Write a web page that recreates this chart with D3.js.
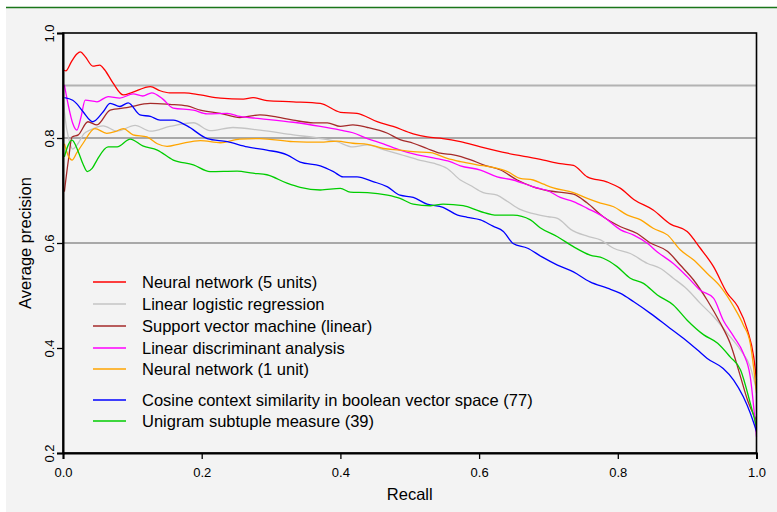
<!DOCTYPE html>
<html>
<head>
<meta charset="utf-8">
<script src="https://cdn.jsdelivr.net/npm/d3@7"></script>
<style>
  html, body { margin: 0; padding: 0; background: #ffffff; }
  svg { display: block; font-family: "Liberation Sans", Arial, sans-serif; }
</style>
</head>
<body>
<svg id="chart" width="777" height="512"></svg>
<script>
// Precision–recall curves, [recall, average precision]
const neuralNet5 = [[0,0.930],[0.004,0.928],[0.012,0.945],[0.020,0.960],[0.025,0.964],[0.032,0.955],[0.043,0.937],[0.053,0.939],[0.060,0.930],[0.072,0.905],[0.087,0.882],[0.100,0.887],[0.126,0.898],[0.140,0.890],[0.154,0.886],[0.175,0.886],[0.198,0.882],[0.227,0.876],[0.260,0.874],[0.274,0.877],[0.294,0.871],[0.332,0.869],[0.371,0.866],[0.400,0.849],[0.424,0.847],[0.453,0.831],[0.476,0.822],[0.505,0.808],[0.525,0.802],[0.548,0.799],[0.573,0.793],[0.602,0.783],[0.641,0.771],[0.670,0.764],[0.693,0.758],[0.717,0.751],[0.736,0.748],[0.756,0.726],[0.785,0.716],[0.804,0.704],[0.823,0.683],[0.851,0.663],[0.876,0.636],[0.900,0.622],[0.919,0.590],[0.938,0.555],[0.958,0.504],[0.973,0.479],[0.987,0.434],[0.996,0.383],[1.0,0.339]];
const logistic = [[0,0.880],[0.003,0.838],[0.008,0.800],[0.014,0.779],[0.022,0.790],[0.030,0.808],[0.039,0.815],[0.058,0.823],[0.078,0.813],[0.104,0.824],[0.126,0.813],[0.154,0.822],[0.188,0.829],[0.212,0.814],[0.245,0.820],[0.284,0.815],[0.332,0.806],[0.367,0.800],[0.395,0.793],[0.418,0.783],[0.439,0.787],[0.462,0.778],[0.486,0.769],[0.511,0.759],[0.534,0.752],[0.554,0.742],[0.573,0.720],[0.587,0.710],[0.606,0.696],[0.626,0.691],[0.641,0.679],[0.659,0.664],[0.678,0.656],[0.700,0.650],[0.713,0.647],[0.732,0.626],[0.756,0.613],[0.775,0.606],[0.794,0.590],[0.818,0.580],[0.843,0.561],[0.861,0.552],[0.880,0.533],[0.900,0.512],[0.919,0.485],[0.938,0.460],[0.958,0.428],[0.977,0.396],[0.991,0.364],[1.0,0.320]];
const svmLinear = [[0.002,0.698],[0.008,0.760],[0.013,0.802],[0.022,0.806],[0.036,0.831],[0.049,0.825],[0.068,0.853],[0.092,0.858],[0.126,0.866],[0.154,0.864],[0.179,0.861],[0.198,0.853],[0.227,0.847],[0.255,0.839],[0.284,0.844],[0.303,0.841],[0.332,0.834],[0.361,0.829],[0.381,0.829],[0.400,0.822],[0.418,0.825],[0.439,0.820],[0.468,0.809],[0.486,0.797],[0.505,0.790],[0.525,0.780],[0.544,0.771],[0.563,0.768],[0.587,0.759],[0.606,0.749],[0.631,0.739],[0.655,0.720],[0.678,0.707],[0.698,0.700],[0.736,0.693],[0.756,0.676],[0.779,0.650],[0.804,0.631],[0.828,0.618],[0.847,0.600],[0.872,0.584],[0.890,0.558],[0.909,0.530],[0.929,0.491],[0.948,0.447],[0.962,0.409],[0.977,0.345],[0.987,0.301],[1.0,0.262]];
const lda = [[0.002,0.901],[0.008,0.860],[0.014,0.828],[0.020,0.815],[0.026,0.840],[0.032,0.872],[0.049,0.869],[0.065,0.879],[0.082,0.876],[0.101,0.884],[0.115,0.880],[0.128,0.886],[0.144,0.874],[0.159,0.857],[0.188,0.853],[0.208,0.846],[0.237,0.847],[0.255,0.841],[0.284,0.837],[0.332,0.830],[0.371,0.822],[0.400,0.815],[0.418,0.810],[0.439,0.799],[0.462,0.789],[0.486,0.777],[0.511,0.768],[0.534,0.762],[0.558,0.755],[0.573,0.747],[0.602,0.739],[0.626,0.726],[0.649,0.720],[0.678,0.707],[0.700,0.699],[0.717,0.687],[0.736,0.679],[0.756,0.666],[0.779,0.650],[0.804,0.625],[0.823,0.615],[0.843,0.599],[0.857,0.583],[0.880,0.561],[0.900,0.536],[0.919,0.510],[0.938,0.495],[0.952,0.453],[0.967,0.422],[0.981,0.390],[0.991,0.345],[1.0,0.231]];
const neuralNet1 = [[0.002,0.789],[0.008,0.765],[0.013,0.758],[0.020,0.772],[0.029,0.790],[0.046,0.818],[0.063,0.809],[0.075,0.812],[0.087,0.818],[0.101,0.806],[0.121,0.802],[0.136,0.789],[0.150,0.784],[0.169,0.789],[0.198,0.795],[0.227,0.791],[0.255,0.798],[0.284,0.799],[0.332,0.793],[0.371,0.792],[0.395,0.794],[0.418,0.790],[0.439,0.788],[0.462,0.780],[0.486,0.777],[0.505,0.774],[0.530,0.772],[0.554,0.761],[0.573,0.755],[0.597,0.749],[0.620,0.744],[0.641,0.736],[0.659,0.723],[0.678,0.720],[0.693,0.712],[0.707,0.705],[0.736,0.696],[0.756,0.685],[0.775,0.676],[0.794,0.669],[0.814,0.653],[0.833,0.644],[0.851,0.628],[0.872,0.615],[0.890,0.587],[0.909,0.568],[0.929,0.542],[0.948,0.517],[0.967,0.479],[0.981,0.444],[0.991,0.409],[1.0,0.314]];
const cosineBoolean = [[0.002,0.877],[0.014,0.872],[0.020,0.865],[0.029,0.850],[0.043,0.831],[0.058,0.850],[0.068,0.866],[0.082,0.860],[0.094,0.867],[0.111,0.844],[0.126,0.841],[0.140,0.834],[0.159,0.834],[0.179,0.823],[0.208,0.799],[0.237,0.793],[0.266,0.783],[0.294,0.777],[0.323,0.768],[0.342,0.754],[0.371,0.747],[0.390,0.736],[0.404,0.726],[0.424,0.726],[0.447,0.717],[0.468,0.707],[0.486,0.691],[0.505,0.687],[0.525,0.674],[0.548,0.668],[0.569,0.653],[0.583,0.649],[0.602,0.644],[0.620,0.632],[0.635,0.622],[0.649,0.599],[0.670,0.590],[0.690,0.574],[0.713,0.558],[0.736,0.545],[0.760,0.526],[0.785,0.514],[0.804,0.504],[0.823,0.488],[0.847,0.466],[0.872,0.441],[0.895,0.418],[0.915,0.396],[0.929,0.380],[0.952,0.361],[0.967,0.339],[0.981,0.307],[0.991,0.276],[1.0,0.241]];
const unigramSubtuple = [[0.002,0.764],[0.007,0.785],[0.013,0.796],[0.022,0.774],[0.029,0.750],[0.035,0.736],[0.042,0.742],[0.049,0.758],[0.065,0.783],[0.078,0.783],[0.097,0.798],[0.115,0.785],[0.136,0.777],[0.159,0.758],[0.188,0.749],[0.212,0.736],[0.251,0.737],[0.274,0.733],[0.294,0.730],[0.323,0.714],[0.342,0.706],[0.371,0.701],[0.400,0.704],[0.414,0.697],[0.439,0.696],[0.468,0.691],[0.486,0.685],[0.505,0.674],[0.530,0.671],[0.548,0.674],[0.577,0.671],[0.602,0.660],[0.626,0.653],[0.649,0.653],[0.674,0.644],[0.688,0.629],[0.713,0.612],[0.736,0.593],[0.760,0.577],[0.779,0.571],[0.799,0.555],[0.818,0.533],[0.837,0.523],[0.857,0.501],[0.880,0.482],[0.900,0.453],[0.924,0.425],[0.944,0.409],[0.962,0.383],[0.977,0.358],[0.991,0.295],[1.0,0.250]];

const seriesNames = [
  "Neural network (5 units)",
  "Linear logistic regression",
  "Support vector machine (linear)",
  "Linear discriminant analysis",
  "Neural network (1 unit)",
  "Cosine context similarity in boolean vector space (77)",
  "Unigram subtuple measure (39)"
];
const seriesData = [neuralNet5, logistic, svmLinear, lda, neuralNet1, cosineBoolean, unigramSubtuple];
const seriesColors = ["#ff0000", "#c4c4c4", "#a52a2a", "#ff00ff", "#ffa500", "#0000ff", "#00cd00"];

const xTicks = [0, 0.2, 0.4, 0.6, 0.8, 1.0];
const yTicks = [0.2, 0.4, 0.6, 0.8, 1.0];
const refLines = [0.9, 0.8, 0.6];

const svg = d3.select("#chart");

// panel background with a rule along the top
svg.append("rect").attr("x", 6).attr("y", 7).attr("width", 771).attr("height", 505).attr("fill", "#f3f3f3");
svg.append("line").attr("x1", 6).attr("x2", 777).attr("y1", 7.5).attr("y2", 7.5)
  .attr("stroke", "#1a761a").attr("stroke-width", 1.5);

const x = d3.scaleLinear().domain([0, 1]).range([63, 756.5]);
const y = d3.scaleLinear().domain([0.2, 1.0]).range([453, 33]);

// horizontal reference lines
svg.append("g").selectAll("line").data(refLines).join("line")
  .attr("x1", x(0)).attr("x2", x(1))
  .attr("y1", d => y(d)).attr("y2", d => y(d))
  .attr("stroke", d => d === 0.9 ? "#b2b2b2" : "#8f8f8f")
  .attr("stroke-width", d => d === 0.9 ? 2 : 1.4);

// curves
const line = d3.line().x(d => x(d[0])).y(d => y(d[1])).curve(d3.curveMonotoneX);
svg.append("g").selectAll("path").data(seriesData).join("path")
  .attr("d", line)
  .attr("fill", "none")
  .attr("stroke", (d, i) => seriesColors[i])
  .attr("stroke-width", 1.3)
  .attr("stroke-linejoin", "round");

// frame
svg.append("rect")
  .attr("x", x(0)).attr("y", y(1))
  .attr("width", x(1) - x(0)).attr("height", y(0.2) - y(1))
  .attr("fill", "none").attr("stroke", "#000").attr("stroke-width", 1.6);

// x axis
const xAxis = svg.append("g").attr("transform", `translate(0,${y(0.2)})`)
  .call(d3.axisBottom(x).tickValues(xTicks).tickFormat(d3.format(".1f")).tickSize(6).tickPadding(9));
xAxis.select(".domain").attr("stroke-width", 2);
xAxis.selectAll(".tick line").attr("stroke-width", 1.3);
xAxis.selectAll(".tick text").attr("font-size", 13).attr("fill", "#000")
  .attr("font-family", "Liberation Sans, Arial, sans-serif");

// y axis with rotated labels
const yAxis = svg.append("g").attr("transform", `translate(${x(0)},0)`)
  .call(d3.axisLeft(y).tickValues(yTicks).tickFormat(d3.format(".1f")).tickSize(6));
yAxis.select(".domain").attr("stroke-width", 2);
yAxis.selectAll(".tick line").attr("stroke-width", 1.3);
yAxis.selectAll(".tick text")
  .attr("x", null).attr("dy", null)
  .attr("text-anchor", "middle")
  .attr("transform", "translate(-9.5,0) rotate(-90)")
  .attr("font-size", 13).attr("fill", "#000")
  .attr("font-family", "Liberation Sans, Arial, sans-serif");

// axis titles
svg.append("text").attr("x", (x(0) + x(1)) / 2).attr("y", 500)
  .attr("text-anchor", "middle").attr("font-size", 16.5).text("Recall");
svg.append("text")
  .attr("transform", `translate(31,${(y(0.2) + y(1)) / 2}) rotate(-90)`)
  .attr("text-anchor", "middle").attr("font-size", 16.5).text("Average precision");

// legend
const legendY = [282, 304, 326, 348, 369, 400, 421];
const legend = svg.append("g");
seriesNames.forEach((name, i) => {
  legend.append("line").attr("x1", 93).attr("x2", 126)
    .attr("y1", legendY[i]).attr("y2", legendY[i])
    .attr("stroke", seriesColors[i]).attr("stroke-width", 1.5);
  legend.append("text").attr("x", 142).attr("y", legendY[i] + 6)
    .attr("font-size", 16.5).attr("fill", "#000").text(name);
});
</script>
</body>
</html>
